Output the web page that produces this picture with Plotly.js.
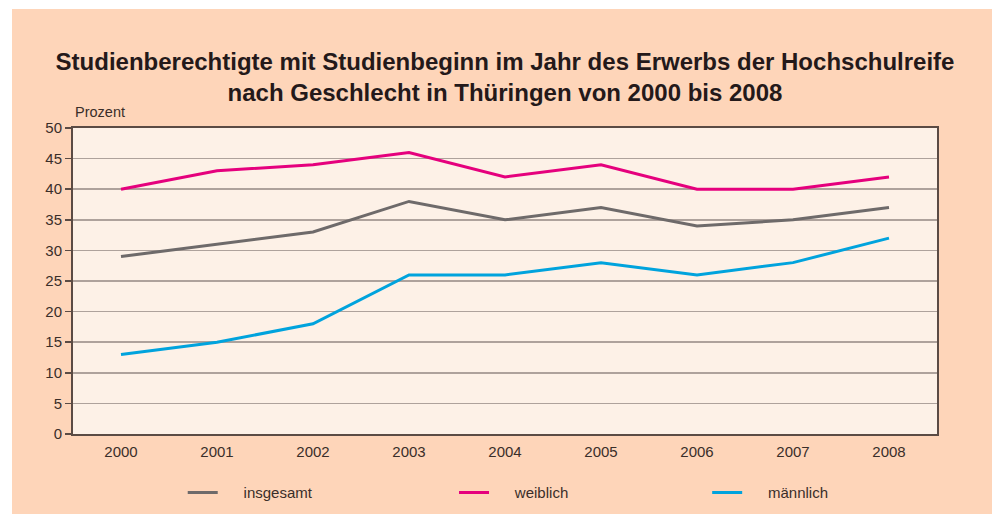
<!DOCTYPE html>
<html>
<head>
<meta charset="utf-8">
<script src="https://cdn.plot.ly/plotly-3.0.1.min.js"></script>
<style>
html,body{margin:0;padding:0;background:#ffffff;}
#chart{position:absolute;left:12px;top:9px;width:980px;height:505px;}
</style>
</head>
<body>
<div id="chart"></div>
<script>
const years = ['2000','2001','2002','2003','2004','2005','2006','2007','2008'];
const insgesamt = [29, 31, 33, 38, 35, 37, 34, 35, 37];
const weiblich = [40, 43, 44, 46, 42, 44, 40, 40, 42];
const maennlich = [13, 15, 18, 26, 26, 28, 26, 28, 32];
const seriesNames = ['insgesamt', 'weiblich', 'männlich'];
const yTicks = [0, 5, 10, 15, 20, 25, 30, 35, 40, 45, 50];

const colors = ['#6e6a6a', '#e5007d', '#00a3dd'];
const pad = '\u00a0\u00a0\u00a0\u00a0\u00a0';
const dataSets = [insgesamt, weiblich, maennlich];
const legendIds = ['legend', 'legend2', 'legend3'];

const traces = dataSets.map((vals, i) => ({
  type: 'scatter', mode: 'lines',
  x: years, y: vals,
  name: pad + seriesNames[i],
  line: {color: colors[i], width: 3},
  legend: legendIds[i],
  showlegend: true,
  hoverinfo: 'skip'
}));

const legendFont = {family: 'Liberation Sans, Arial, sans-serif', size: 15, color: '#3a2e29'};
function leg(x) {
  return {x: x, xref: 'paper', y: -0.192, yref: 'paper', yanchor: 'middle', xanchor: 'left',
    orientation: 'h', bgcolor: 'rgba(0,0,0,0)', borderwidth: 0, font: legendFont};
}

const layout = {
  width: 980, height: 505,
  showlegend: true,
  margin: {l: 61, r: 55, t: 119, b: 80, autoexpand: false},
  paper_bgcolor: '#fed5b9',
  plot_bgcolor: '#fdf1e7',
  font: {family: 'Liberation Sans, Arial, sans-serif', color: '#3a2e29', size: 15},
  title: {
    text: 'Studienberechtigte mit Studienbeginn im Jahr des Erwerbs der Hochschulreife<br>nach Geschlecht in Thüringen von 2000 bis 2008',
    font: {family: 'Liberation Sans, Arial, sans-serif', size: 24, color: '#24191a', weight: 'bold'},
    x: 0.5, xref: 'paper', xanchor: 'center',
    y: 1 - 61/505, yref: 'container', yanchor: 'middle'
  },
  xaxis: {
    type: 'category', range: [-0.5, 8.5],
    showgrid: false, showline: true, mirror: true, linecolor: '#5b4b44', linewidth: 2,
    ticks: '', ticklabelstandoff: 3, tickfont: {size: 15, color: '#3a2e29'}, fixedrange: true
  },
  yaxis: {
    range: [0, 50], tickvals: yTicks, ticktext: yTicks.map(String),
    showgrid: true, gridcolor: '#aea29c', gridwidth: 1.5,
    showline: true, mirror: true, linecolor: '#5b4b44', linewidth: 2,
    ticks: 'outside', ticklen: 6, tickwidth: 1.5, tickcolor: '#5b4b44',
    tickfont: {size: 15, color: '#3a2e29'}, zeroline: false, fixedrange: true
  },
  legend: leg(0.127),
  legend2: leg(0.441),
  legend3: leg(0.734),
  annotations: [{
    text: 'Prozent', xref: 'paper', yref: 'paper', x: 0, y: 1.052,
    xanchor: 'left', yanchor: 'middle', showarrow: false,
    font: {size: 14.5, color: '#3a2e29'}
  }]
};

Plotly.newPlot('chart', traces, layout, {displayModeBar: false, staticPlot: true});
</script>
</body>
</html>
